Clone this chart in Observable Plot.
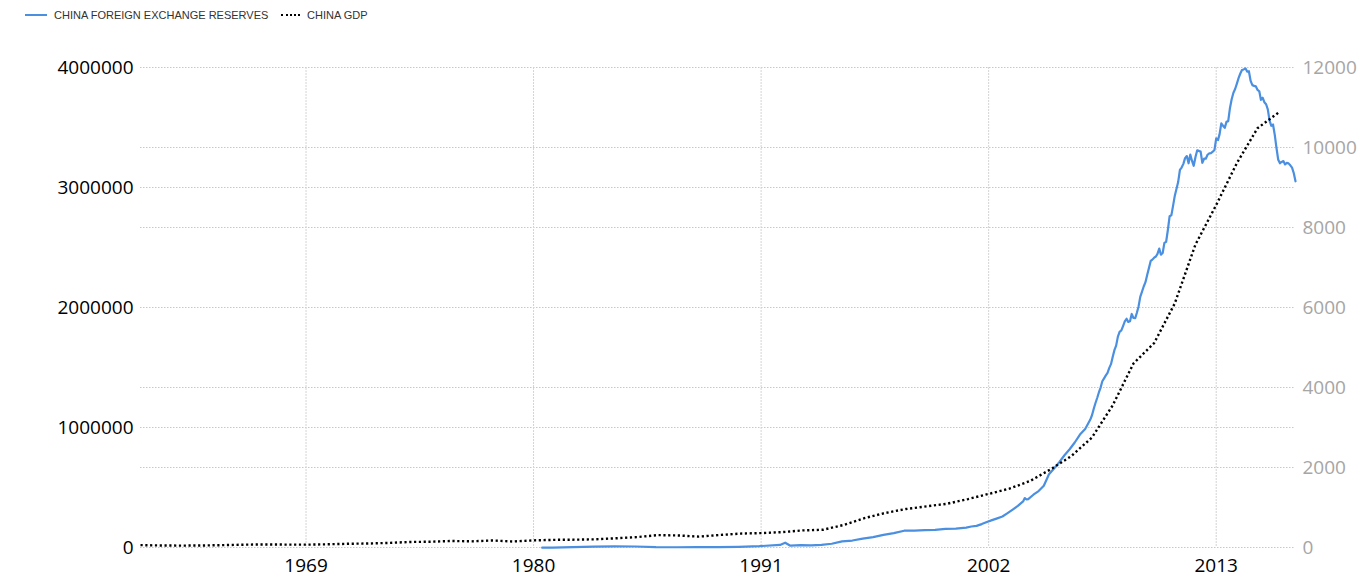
<!DOCTYPE html>
<html>
<head>
<meta charset="utf-8">
<script src="https://cdn.jsdelivr.net/npm/d3@7"></script>
<script src="https://cdn.jsdelivr.net/npm/@observablehq/plot@0.6"></script>
<style>
  html, body { margin: 0; padding: 0; background: #fff; }
  body { width: 1360px; height: 582px; overflow: hidden; font-family: "Open Sans", "DejaVu Sans", sans-serif; }
  #legend { height: 30px; position: relative; font-size: 11px; color: #333; font-family: "Liberation Sans", Arial, sans-serif; }
  .item { position: absolute; top: 9px; display: flex; align-items: center; white-space: nowrap; }
  .swatch { width: 22px; height: 0; margin-right: 7px; }
  #chart svg { display: block; }
</style>
</head>
<body>
<div id="legend"></div>
<div id="chart"></div>
<script>
// ---- Data ----
const seriesNames = ["CHINA FOREIGN EXCHANGE RESERVES", "CHINA GDP"];

// China GDP, USD billion (annual, plotted at year end)
const gdpYears = [1960,1961,1962,1963,1964,1965,1966,1967,1968,1969,1970,1971,1972,1973,1974,1975,1976,1977,1978,1979,
  1980,1981,1982,1983,1984,1985,1986,1987,1988,1989,1990,1991,1992,1993,1994,1995,1996,1997,1998,1999,
  2000,2001,2002,2003,2004,2005,2006,2007,2008,2009,2010,2011,2012,2013,2014,2015];
const gdpValues = [59.7,50.1,47.2,50.7,59.7,70.4,76.7,72.9,70.8,79.7,92.6,99.8,113.7,138.5,144.2,163.4,153.9,174.9,149.5,178.3,
  191.1,195.9,205.1,230.7,259.9,309.5,300.8,272.9,312.4,347.8,360.9,383.4,426.9,444.7,564.3,734.5,863.7,961.6,1029,1094,
  1211,1339,1471,1660,1955,2286,2752,3552,4598,5110,6101,7573,8561,9607,10482,10866];

// China foreign exchange reserves, USD million
const reserveDates = ["1980-06","1980-12","1981-12","1982-12","1983-12","1984-12","1985-12","1986-12","1987-12","1988-12","1989-12",
  "1990-12","1991-12","1992-03","1992-06","1992-12","1993-06","1993-12","1994-06","1994-12","1995-06","1995-12","1996-06","1996-12",
  "1997-06","1997-12","1998-06","1998-12","1999-06","1999-12","2000-06","2000-12","2001-03","2001-06","2001-09","2001-12",
  "2002-03","2002-06","2002-09","2002-12","2003-03","2003-06","2003-09","2003-10","2003-11","2003-12","2004-03","2004-06","2004-09","2004-12",
  "2005-03","2005-06","2005-09","2005-12","2006-03","2006-06","2006-09","2006-12",
  "2007-01","2007-02","2007-03","2007-04","2007-05","2007-06","2007-07","2007-08","2007-09","2007-10","2007-11","2007-12",
  "2008-01","2008-02","2008-03","2008-04","2008-05","2008-06","2008-07","2008-08","2008-09","2008-10","2008-11","2008-12",
  "2009-01","2009-02","2009-03","2009-04","2009-05","2009-06","2009-07","2009-08","2009-09","2009-10","2009-11","2009-12",
  "2010-01","2010-02","2010-03","2010-04","2010-05","2010-06","2010-07","2010-08","2010-09","2010-10","2010-11","2010-12",
  "2011-01","2011-02","2011-03","2011-04","2011-05","2011-06","2011-07","2011-08","2011-09","2011-10","2011-11","2011-12",
  "2012-01","2012-02","2012-03","2012-04","2012-05","2012-06","2012-07","2012-08","2012-09","2012-10","2012-11","2012-12",
  "2013-01","2013-02","2013-03","2013-04","2013-05","2013-06","2013-07","2013-08","2013-09","2013-10","2013-11","2013-12",
  "2014-01","2014-02","2014-03","2014-04","2014-05","2014-06","2014-07","2014-08","2014-09","2014-10","2014-11","2014-12",
  "2015-01","2015-02","2015-03","2015-04","2015-05","2015-06","2015-07","2015-08","2015-09","2015-10","2015-11","2015-12",
  "2016-01","2016-02","2016-03","2016-04","2016-05","2016-06","2016-07","2016-08","2016-09","2016-10","2016-11"];
const reserveValues = [-1300,-1300,2700,6990,8900,8220,2640,2070,2920,3370,5550,
  11090,21710,40000,15000,19440,18000,21200,31000,51620,58000,73600,87000,105000,
  120000,139900,140500,145000,147000,154700,158000,165600,175000,180000,195000,212200,
  228000,242800,258500,286400,316000,346500,383900,412000,400000,403300,439800,470600,514500,609900,
  659100,711000,769000,818900,875100,941100,987900,1066300,
  1104000,1158000,1202000,1246000,1292000,1333000,1385000,1409000,1434000,1455000,1497000,1528000,
  1590000,1647000,1682000,1757000,1797000,1809000,1845000,1884000,1906000,1880000,1885000,1946000,
  1913000,1912000,1954000,2009000,2089000,2132000,2175000,2211000,2273000,2328000,2388000,2399000,
  2415000,2425000,2447000,2491000,2440000,2454000,2538000,2548000,2648000,2760000,2768000,2847000,
  2932000,2992000,3045000,3146000,3166000,3197000,3245000,3262000,3202000,3274000,3221000,3181000,
  3254000,3310000,3305000,3299000,3206000,3240000,3240000,3273000,3285000,3287000,3298000,3312000,
  3410000,3395000,3443000,3535000,3515000,3497000,3547000,3553000,3663000,3736000,3790000,3821000,
  3866000,3914000,3948000,3979000,3984000,3993000,3966000,3969000,3888000,3853000,3847000,3843000,
  3813000,3802000,3730000,3748000,3711000,3694000,3651000,3557000,3514000,3525000,3438000,3330000,
  3231000,3202000,3213000,3220000,3192000,3205000,3201000,3185000,3166000,3121000,3052000];

const xTickYears = [1969, 1980, 1991, 2002, 2013];
const leftTicks = [0, 1000000, 2000000, 3000000, 4000000];
const rightTicks = [0, 2000, 4000, 6000, 8000, 10000, 12000];
const leftMax = 4000000, rightMax = 12000;

// ---- Build tables ----
const k = leftMax / rightMax;
const gdp = gdpYears.map((y, i) => ({date: new Date(y, 11, 31), value: gdpValues[i] * k}));
const reserves = reserveDates.map((s, i) => {
  const [yy, mm] = s.split("-").map(Number);
  return {date: new Date(yy, mm - 1, 1), value: reserveValues[i]};
});
const xDomain = [gdp[0].date, reserves[reserves.length - 1].date];
const xTicks = xTickYears.map(y => new Date(y, 0, 1));
const rightTicksScaled = rightTicks.map(v => v * k);
const blue = "#4a8fe0";

// ---- Legend ----
const legend = document.getElementById("legend");
legend.innerHTML = `
  <div class="item" style="left:25px"><span class="swatch" style="border-top:2px solid ${blue}"></span>${seriesNames[0]}</div>
  <div class="item" style="left:281px"><span class="swatch" style="width:19px;border-top:2px dotted #000"></span>${seriesNames[1]}</div>`;

// ---- Chart ----
const chart = Plot.plot({
  width: 1360,
  height: 552,
  marginTop: 37,
  marginBottom: 35,
  marginLeft: 140,
  marginRight: 65,
  style: {fontFamily: "'Open Sans', 'DejaVu Sans', sans-serif", fontSize: "19px", background: "#fff", color: "#000"},
  x: {type: "time", domain: xDomain},
  y: {domain: [0, leftMax]},
  marks: [
    Plot.gridY(Array.from(new Set([...leftTicks, ...rightTicksScaled])), {stroke: "#c8c8c8", strokeOpacity: 1, strokeDasharray: "1.5,1.5"}),
    Plot.gridX(xTicks, {stroke: "#d4d4d4", strokeOpacity: 1, strokeDasharray: "2,1"}),
    Plot.axisY(leftTicks, {anchor: "left", tickSize: 0, tickPadding: 7, tickFormat: d => String(d), fill: "#000", label: null}),
    Plot.axisY(rightTicksScaled, {anchor: "right", tickSize: 0, tickPadding: 7, tickFormat: d => String(Math.round(d / k)), fill: "#a6a6a6", label: null}),
    Plot.axisX(xTicks, {anchor: "bottom", tickSize: 0, tickPadding: 11, tickFormat: d => String(d.getFullYear()), fill: "#000", label: null}),
    Plot.line(reserves, {x: "date", y: "value", stroke: blue, strokeWidth: 2.2}),
    Plot.line(gdp, {x: "date", y: "value", stroke: "#000", strokeWidth: 2.4, strokeDasharray: "2.2,2.6", strokeLinecap: "butt", strokeLinejoin: "miter"})
  ]
});
document.getElementById("chart").appendChild(chart);
</script>
</body>
</html>
